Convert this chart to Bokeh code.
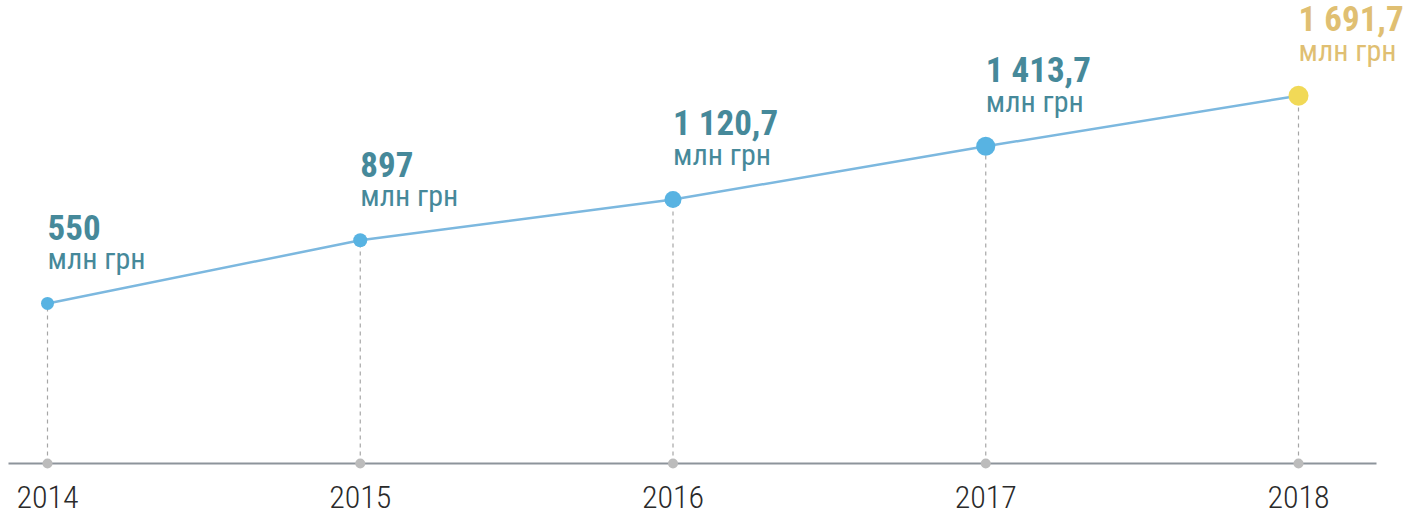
from bokeh.plotting import figure
from bokeh.models import ColumnDataSource, Range1d
from bokeh.core.properties import value
from bokeh.embed import file_html
from bokeh.resources import INLINE

# ---- data ----
years = [2014, 2015, 2016, 2017, 2018]
year_labels = ["2014", "2015", "2016", "2017", "2018"]
amounts = [550.0, 897.0, 1120.7, 1413.7, 1691.7]
amount_labels = ["550", "897", "1 120,7", "1 413,7", "1 691,7"]
unit_label = "млн грн"

# ---- styles ----
dot_sizes = [13, 14, 17, 19, 20]
dot_colors = ["#58b3e2", "#58b3e2", "#58b3e2", "#58b3e2", "#f1d957"]
label_colors = ["#46899a", "#46899a", "#46899a", "#46899a", "#e0bf72"]
FONT = "Roboto Condensed"
BASE = -330.0

src = ColumnDataSource(dict(
    x=years, y=amounts, lab=amount_labels, unit=[unit_label] * len(years),
    ylab=year_labels, size=dot_sizes, dcol=dot_colors, lcol=label_colors,
    base=[BASE] * len(years),
))

p = figure(width=1405, height=518, output_backend="svg",
           toolbar_location=None, min_border=0,
           x_range=Range1d(2014 - 47 / 312.75, 2014 + 1358 / 312.75),
           y_range=Range1d(-632, 2215))
p.outline_line_color = None
p.grid.visible = False
p.axis.visible = False
p.background_fill_color = "white"
p.border_fill_color = "white"

# baseline
p.segment(x0=[2014 - 39 / 312.75], y0=[BASE], x1=[2014 + 1329 / 312.75], y1=[BASE],
          line_color="#8d949b", line_width=2)
# dashed drop lines
p.segment(x0="x", y0="base", x1="x", y1="y", source=src,
          line_color="#a6a6a6", line_width=1.2, line_dash="4 4")
# baseline dots
p.scatter(x="x", y="base", source=src, size=10, fill_color="#bcbcbc",
          line_color=None)
# main line
p.line(x="x", y="y", source=src, line_color="#7cb8df", line_width=2.5)
# points
p.scatter(x="x", y="y", source=src, size="size", fill_color="dcol",
          line_color=None)

# year labels
p.text(x="x", y="base", text="ylab", source=src, text_color="#2a2a2a",
       text_font=value("Roboto Condensed Light"), text_font_size="32px",
       text_baseline="alphabetic", text_align="center", y_offset=33)
# value labels
p.text(x="x", y="y", text="lab", source=src, text_color="lcol",
       text_font=value(FONT), text_font_style="bold",
       text_font_size="35px", text_baseline="alphabetic",
       text_align="left", y_offset=-76)
p.text(x="x", y="y", text="unit", source=src, text_color="lcol",
       text_font=value(FONT), text_font_size="30px",
       text_baseline="alphabetic", text_align="left", y_offset=-45)

open("out.html", "w").write(file_html(p, INLINE))
